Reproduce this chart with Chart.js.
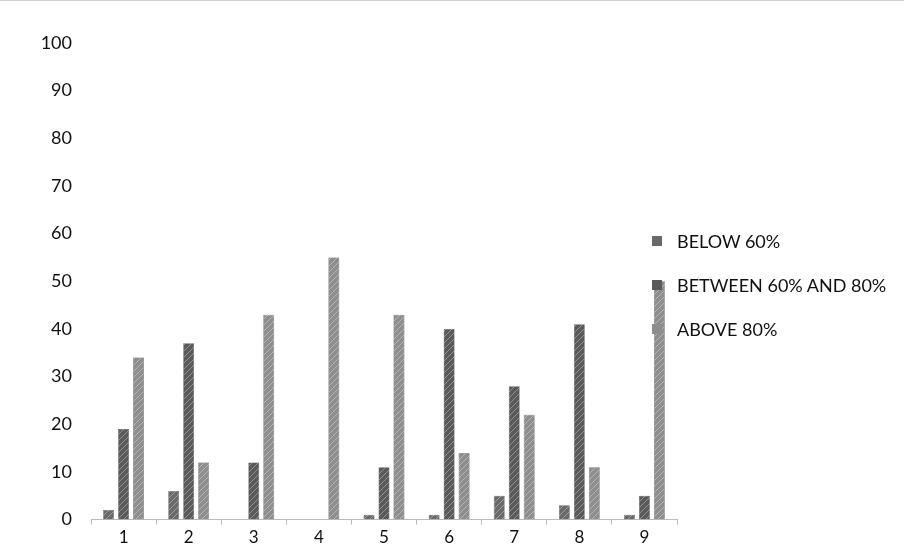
<!DOCTYPE html>
<html>
<head>
<meta charset="utf-8">
<script src="https://cdn.jsdelivr.net/npm/chart.js@4"></script>
<style>
  body { margin: 0; background: #fff; }
  #wrap { position: relative; width: 904px; height: 558px; border-top: 1px solid #cfcfcf; box-sizing: border-box; }
  #legend { position: absolute; left: 652px; top: 229px; font: 18px Lato, sans-serif; color: #111; }
  .row { height: 44px; display: flex; align-items: flex-start; line-height: 22px; }
  .box { width: 10px; height: 10px; margin: 6px 15px 0 0; }
</style>
</head>
<body>
<div id="wrap">
  <canvas id="c" width="904" height="557"></canvas>
  <div id="legend"></div>
</div>
<script>
const labels  = ['1', '2', '3', '4', '5', '6', '7', '8', '9'];
const names   = ['BELOW 60%', 'BETWEEN 60% AND 80%', 'ABOVE 80%'];
const below   = [2, 6, 0, 0, 1, 1, 5, 3, 1];
const between = [19, 37, 12, 0, 11, 40, 28, 41, 5];
const above   = [34, 12, 43, 55, 43, 14, 22, 11, 50];
const yTicks  = [0, 10, 20, 30, 40, 50, 60, 70, 80, 90, 100];

const colors = ['#6a6a6a', '#5a5a5a', '#8e8e8e'];

function hatch(base) {
  const p = document.createElement('canvas');
  p.width = 6; p.height = 6;
  const g = p.getContext('2d');
  g.fillStyle = base;
  g.fillRect(0, 0, 6, 6);
  g.strokeStyle = 'rgba(255,255,255,0.35)';
  g.lineWidth = 1;
  g.beginPath();
  g.moveTo(0, 6); g.lineTo(6, 0);
  g.moveTo(-3, 3); g.lineTo(3, -3);
  g.moveTo(3, 9); g.lineTo(9, 3);
  g.stroke();
  return g.createPattern(p, 'repeat');
}

const series = [below, between, above];
const datasets = series.map((d, i) => ({
  label: names[i],
  data: d,
  backgroundColor: hatch(colors[i]),
  borderColor: '#4a4a4a',
  borderWidth: 0.5,
  barPercentage: 0.73,
  categoryPercentage: 0.69
}));

new Chart(document.getElementById('c'), {
  type: 'bar',
  data: { labels: labels, datasets: datasets },
  options: {
    responsive: false,
    animation: false,
    layout: { padding: { top: 42, right: 227, bottom: 7, left: 0 } },
    plugins: { legend: { display: false }, tooltip: { enabled: false } },
    scales: {
      x: {
        grid: { display: true, drawOnChartArea: false, drawTicks: true, tickLength: 5, color: '#bbb', offset: true },
        border: { color: '#bbb' },
        ticks: { color: '#111', font: { family: 'Lato', size: 17 }, padding: 3 }
      },
      y: {
        min: 0, max: 100,
        afterFit: s => { s.width = 91; },
        afterBuildTicks: s => { s.ticks = yTicks.map(v => ({ value: v })); },
        grid: { display: false },
        border: { display: false },
        ticks: { color: '#111', font: { family: 'Lato', size: 18 }, padding: 11 }
      }
    }
  }
});

const leg = document.getElementById('legend');
names.forEach((n, i) => {
  const row = document.createElement('div');
  row.className = 'row';
  const b = document.createElement('div');
  b.className = 'box';
  b.style.background = colors[i];
  const t = document.createElement('span');
  t.textContent = n;
  row.appendChild(b); row.appendChild(t);
  leg.appendChild(row);
});
</script>
</body>
</html>
